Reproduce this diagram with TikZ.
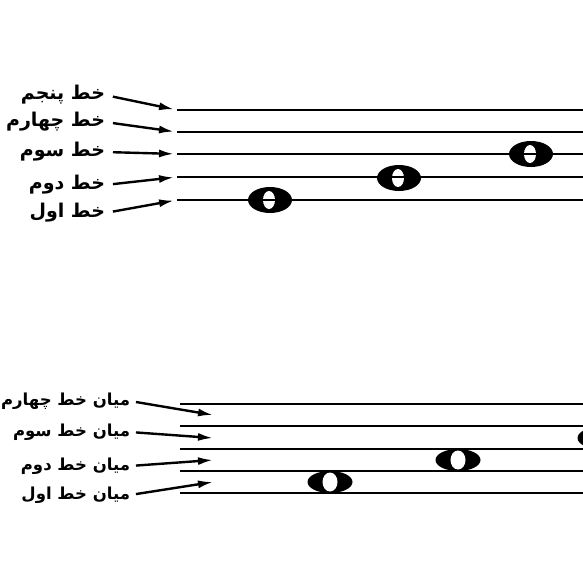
\documentclass[tikz,border=0pt]{standalone}
\usepackage{fontspec}
\usepackage{tikz}
\usetikzlibrary{shapes,arrows,arrows.meta}
\TeXXeTstate=1
\newfontfamily\arabicfont[Script=Arabic]{DejaVu Sans}

\begin{document}
\begin{tikzpicture}[x=1pt, y=-1pt]%
  \tikzset{normal arrow/.style={draw,-{Latex[length=15pt,width=8pt]},line width=2.4pt,black,shorten <=8pt}}
  \tikzset{staff line/.style={draw,line width=2.8pt,black}}
  \tikzset{line note/.pic={\fill (0,0) ellipse (22 and 13); \fill[white] (-1,0) ellipse (6 and 9);}}
  \tikzset{space note/.pic={\fill (0,0) ellipse (22.5 and 11); \fill[white] (0,0) ellipse (7.5 and 9.5);}}
  \tikzstyle{every node}=[draw=none, text=black, inner sep=0pt, outer sep=0pt, anchor=east, font=\arabicfont\bfseries\fontsize{19}{22}\selectfont]
  \tikzset{small label/.style={font=\arabicfont\bfseries\fontsize{16.5}{20}\selectfont}}

  \clip (0,0) rectangle (583,583);

  % lines and their names
  \node at (105,95) (fifth) {\beginR خط پنجم\endR};
  \node at (105,122) (fourth) {\beginR خط چهارم\endR};
  \node at (105,152) (third) {\beginR خط سوم\endR};
  \node at (105,185) (second) {\beginR خط دوم\endR};
  \node at (105,213) (first) {\beginR خط اول\endR};

  \pic at (270,200) {line note};
  \pic at (399,178) {line note};
  \pic at (531,154) {line note};

  \foreach \i/\y in {1/200,2/177,3/154,4/132,5/110}{
    \coordinate (top\i) at (177,\y);
    \draw[staff line] (top\i) -- (583,\y);
  }

  \draw[normal arrow,shorten >=3pt] (fifth.east) -- (top5);
  \draw[normal arrow,shorten >=3pt] (fourth.east) -- (top4);
  \draw[normal arrow,shorten >=3pt] (third.east) -- (top3);
  \draw[normal arrow,shorten >=3pt] (second.east) -- (top2);
  \draw[normal arrow,shorten >=3pt] (first.east) -- (top1);

  % spaces and their names
  \node[small label] at (130,401) (sfourth) {\beginR میان خط چهارم\endR};
  \node[small label] at (130,432) (sthird) {\beginR میان خط سوم\endR};
  \node[small label] at (130,466) (ssecond) {\beginR میان خط دوم\endR};
  \node[small label] at (130,495) (sfirst) {\beginR میان خط اول\endR};

  \pic at (330,482) {space note};
  \pic at (458,460) {space note};
  \pic at (600,438) {space note};

  \foreach \y in {404,426,449,471,493}
    \draw[staff line] (180,\y) -- (583,\y);

  \foreach \i/\y in {1/482,2/460,3/438,4/415}
    \coordinate (gap\i) at (213,\y);

  \draw[normal arrow,shorten <=6pt] (sfourth.east) -- (gap4);
  \draw[normal arrow,shorten <=6pt] (sthird.east) -- (gap3);
  \draw[normal arrow,shorten <=6pt] (ssecond.east) -- (gap2);
  \draw[normal arrow,shorten <=6pt] (sfirst.east) -- (gap1);
\end{tikzpicture}
\end{document}
